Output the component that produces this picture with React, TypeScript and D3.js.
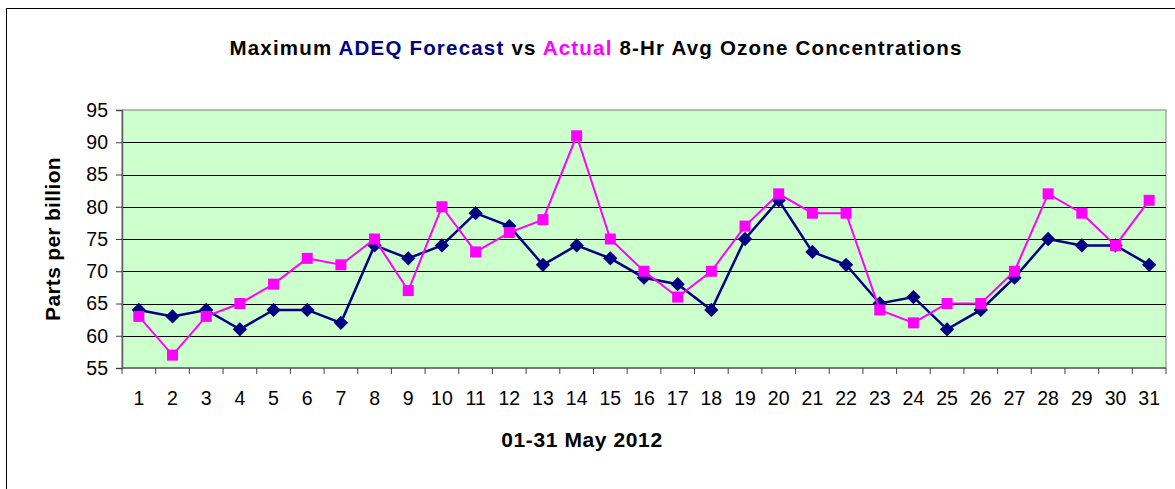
import React, { useEffect, useRef } from "react";
import * as d3 from "d3";

const days = d3.range(1, 32).map(String);
const forecast = [64, 63, 64, 61, 64, 64, 62, 74, 72, 74, 79, 77, 71, 74, 72, 69, 68, 64, 75, 81, 73, 71, 65, 66, 61, 64, 69, 75, 74, 74, 71];
const actual = [63, 57, 63, 65, 68, 72, 71, 75, 67, 80, 73, 76, 78, 91, 75, 70, 66, 70, 77, 82, 79, 79, 64, 62, 65, 65, 70, 82, 79, 74, 81];
const yTicks = [55, 60, 65, 70, 75, 80, 85, 90, 95];

export default function App() {
  const svgRef = useRef<SVGSVGElement>(null);
  const W = 1175;
  const H = 489;

  useEffect(() => {
    const svg = d3.select(svgRef.current);
    svg.selectAll("*").remove();

    const margin = { top: 110, right: 9, bottom: 121, left: 122 };
    const w = W - margin.left - margin.right;
    const h = H - margin.top - margin.bottom;
    const font = "'Liberation Sans', Arial, sans-serif";

    // outer chart frame
    svg.append("rect")
      .attr("x", 6.5).attr("y", 8.5)
      .attr("width", W).attr("height", H)
      .attr("fill", "white").attr("stroke", "black");

    // title
    const title = svg.append("text")
      .attr("x", 596).attr("y", 55)
      .attr("text-anchor", "middle")
      .attr("font-family", font)
      .attr("font-weight", 700)
      .attr("font-size", 20.5)
      .attr("letter-spacing", 1.2);
    const parts: [string, string][] = [
      ["Maximum ", "#000"],
      ["ADEQ Forecast", "#000080"],
      [" vs ", "#000"],
      ["Actual", "#FF00FF"],
      [" 8-Hr Avg Ozone Concentrations", "#000"],
    ];
    parts.forEach(([t, c]) => title.append("tspan").attr("fill", c).text(t));

    const g = svg.append("g").attr("transform", `translate(${margin.left},${margin.top})`);

    const x = d3.scaleBand().domain(days).range([0, w]);
    const y = d3.scaleLinear().domain([55, 95]).range([h, 0]);

    g.append("rect")
      .attr("width", w).attr("height", h)
      .attr("fill", "#CCFFCC")
      .attr("stroke", "#808080");

    // gridlines
    g.append("g").selectAll("line")
      .data(yTicks.slice(1, -1))
      .join("line")
      .attr("x1", 0).attr("x2", w)
      .attr("y1", (d) => Math.round(y(d)) + 0.5)
      .attr("y2", (d) => Math.round(y(d)) + 0.5)
      .attr("stroke", "black");

    // Y axis
    const yAxis = g.append("g")
      .call(d3.axisLeft(y).tickValues(yTicks).tickSize(6).tickPadding(8));
    yAxis.select(".domain").attr("stroke", "#606060").attr("stroke-width", 1.5);
    yAxis.selectAll(".tick line").attr("stroke", "#404040");
    yAxis.selectAll("text")
      .attr("font-family", font).attr("font-size", 19.5).attr("fill", "black");

    // X axis, ticks between categories
    const xAxis = g.append("g").attr("transform", `translate(0,${h})`);
    xAxis.append("line")
      .attr("x1", 0).attr("x2", w)
      .attr("stroke", "#606060").attr("stroke-width", 1.5);
    xAxis.selectAll("line.tk")
      .data(days.concat(["end"]))
      .join("line")
      .attr("class", "tk")
      .attr("x1", (d, i) => i * x.step()).attr("x2", (d, i) => i * x.step())
      .attr("y1", 0).attr("y2", 6)
      .attr("stroke", "#404040");
    xAxis.selectAll("text")
      .data(days)
      .join("text")
      .attr("x", (d) => x(d)! + x.bandwidth() / 2)
      .attr("y", 37)
      .attr("text-anchor", "middle")
      .attr("font-family", font).attr("font-size", 19.5)
      .text((d) => d);

    // axis titles
    svg.append("text")
      .attr("transform", `translate(60,239) rotate(-90)`)
      .attr("text-anchor", "middle")
      .attr("font-family", font).attr("font-weight", 700).attr("font-size", 21)
      .attr("letter-spacing", 0.3)
      .text("Parts per billion");
    svg.append("text")
      .attr("x", 582).attr("y", 447)
      .attr("text-anchor", "middle")
      .attr("font-family", font).attr("font-weight", 700).attr("font-size", 21)
      .attr("letter-spacing", 0.6)
      .text("01-31 May 2012");

    const cx = (i: number) => x(days[i])! + x.bandwidth() / 2;
    const line = d3.line<number>().x((_, i) => cx(i)).y((d) => y(d));

    // forecast series
    g.append("path").datum(forecast)
      .attr("fill", "none").attr("stroke", "#000080").attr("stroke-width", 2.5)
      .attr("d", line);
    g.append("g").selectAll("path")
      .data(forecast)
      .join("path")
      .attr("transform", (d, i) => `translate(${cx(i)},${y(d)})`)
      .attr("d", d3.symbol(d3.symbolDiamond2, 130)())
      .attr("fill", "#000080");

    // actual series
    g.append("path").datum(actual)
      .attr("fill", "none").attr("stroke", "#FF00FF").attr("stroke-width", 2)
      .attr("d", line);
    g.append("g").selectAll("rect")
      .data(actual)
      .join("rect")
      .attr("x", (d, i) => cx(i) - 5.5)
      .attr("y", (d) => y(d) - 5.5)
      .attr("width", 11).attr("height", 11)
      .attr("fill", "#FF00FF");
  }, []);

  return (
    <svg
      ref={svgRef}
      width={W}
      height={H}
      style={{ position: "absolute", left: 0, top: 0, background: "white" }}
    />
  );
}
